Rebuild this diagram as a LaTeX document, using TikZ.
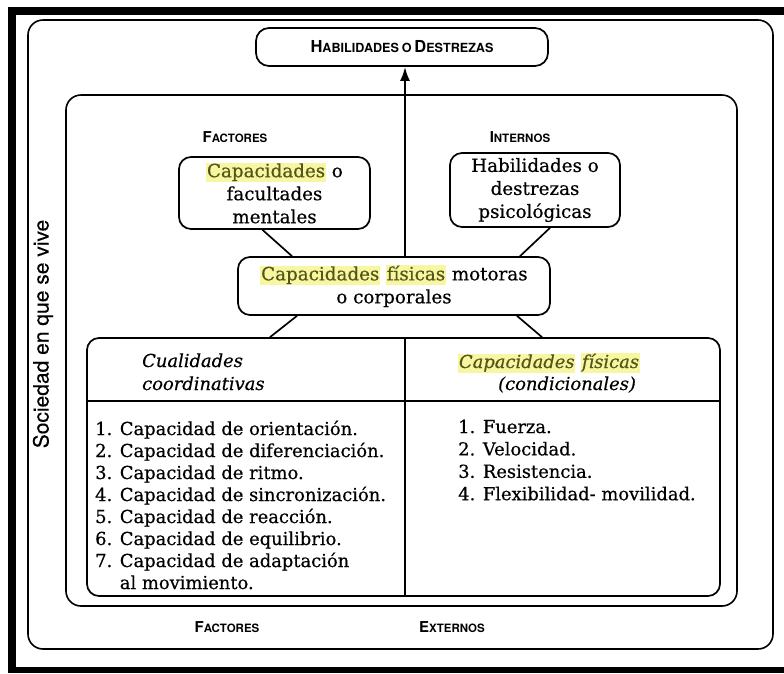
\documentclass[tikz,border=0pt]{standalone}
\usepackage{fontspec}
\setmainfont{DejaVu Serif}[UprightFeatures={FakeBold=0.5},ItalicFeatures={FakeBold=0.5}]
\setsansfont{TeX Gyre Heros}[UprightFeatures={FakeBold=0.3}]
\usetikzlibrary{arrows.meta,calc}

\definecolor{resalte}{HTML}{F7F7A1}
\definecolor{tintaresalte}{HTML}{55551A}

% text sizes
\newcommand{\cuerpo}{\fontsize{18.3}{23}\selectfont}
\newcommand{\lista}{\fontsize{17.9}{22}\selectfont}
% highlighted word
\newcommand{\marca}[1]{{\setlength{\fboxsep}{0.8pt}\colorbox{resalte}{\color{tintaresalte}\vphantom{Cp}#1}}}
% hand-made small capitals: large initial, smaller rest
\newcommand{\versal}[2]{{\fontsize{15}{15}\selectfont #1}{\fontsize{11.5}{15}\selectfont #2}}
\newcommand{\versalT}[2]{{\fontsize{16.5}{17}\selectfont #1}{\fontsize{12.6}{17}\selectfont #2}}

\tikzset{
  caja/.style={draw, line width=1.7pt, rounded corners=12pt, inner sep=0pt,
               align=center, font=\cuerpo},
  marco/.style={draw, line width=1.6pt, rounded corners=15pt},
  enlace/.style={line width=1.7pt},
  flecha/.style={line width=2.2pt, -{Latex[length=14pt,width=10pt]}},
  rotulo/.style={inner sep=0pt, font=\sffamily\bfseries},
  texto/.style={inner sep=0pt, anchor=base west, font=\lista},
  cursiva/.style={texto, font=\lista\itshape},
}

\begin{document}
\begin{tikzpicture}[x=1pt,y=-1pt]
  \useasboundingbox (0,0) rectangle (784,673);

  % heavy black border
  \fill[black] (8,7) rectangle (784,15);
  \fill[black] (8,7) rectangle (16,673);
  \fill[black] (8,667) rectangle (784,673);

  % nested frames: society, internal factors
  \draw[marco] (28,20) rectangle (773,649);
  \draw[marco] (66,95) rectangle (737,606);

  % result at the top
  \node[caja, rounded corners=13pt, minimum width=292pt, minimum height=38pt,
        font=\sffamily\bfseries] (hab) at (402,47)
        {\versalT{H}{ABILIDADES} \versalT{}{O} \versalT{D}{ESTREZAS}};

  % factor labels
  \node[rotulo] (finternos) at (235,137) {\versal{F}{ACTORES}};
  \node[rotulo] (internos)  at (520,137) {\versal{I}{NTERNOS}};
  \node[rotulo] (fexternos) at (227,627) {\versal{F}{ACTORES}};
  \node[rotulo] (externos)  at (452,627) {\versal{E}{XTERNOS}};

  % vertical caption
  \node[inner sep=0pt, rotate=90, font=\sffamily\fontsize{21}{21}\selectfont]
        (sociedad) at (43,334) {Sociedad en que se vive};

  % internal capacities
  \node[caja, minimum width=191pt, minimum height=72pt] (mentales) at (274.5,193)
        {\marca{Capacidades} o\\facultades\\mentales};
  \node[caja, minimum width=170pt, minimum height=74pt] (psico) at (535,190)
        {Habilidades o\\destrezas\\psicológicas};
  \node[caja, minimum width=312pt, minimum height=58pt] (motoras) at (394,286)
        {\marca{Capacidades} \marca{físicas} motoras\\o corporales};

  % two-column table
  \node[caja, minimum width=633pt, minimum height=258pt] (tabla) at (403.5,467) {};
  \coordinate (sepizq) at (87,401);
  \coordinate (divsup) at (405,338);
  \draw[enlace] (sepizq) -- (sepizq -| tabla.east);
  \draw[enlace] (divsup) -- (divsup |- tabla.south);

  % connectors
  \draw[enlace] ([xshift=-12pt]mentales.south) -- ([xshift=-102pt]motoras.north);
  \draw[enlace] ([xshift=15pt]psico.south) -- ([xshift=126pt]motoras.north);
  \draw[enlace] ([xshift=-97pt]motoras.south) -- ([xshift=-133.5pt]tabla.north);
  \draw[enlace] ([xshift=123pt]motoras.south) -- ([xshift=138.5pt]tabla.north);
  \draw[flecha] ([xshift=11pt]motoras.north) -- ([xshift=3pt]hab.south);

  % column headings
  \node[cursiva] (cual)  at (142,367) {Cualidades};
  \node[cursiva] (coord) at (142,390) {coordinativas};
  \node[cursiva] (capf)  at (458,368) {\marca{Capacidades} \marca{físicas}};
  \node[cursiva] (cond)  at (498,390) {(condicionales)};

  % coordinative qualities
  \foreach \t [count=\i] in {
      {1. Capacidad de orientación.},
      {2. Capacidad de diferenciación.},
      {3. Capacidad de ritmo.},
      {4. Capacidad de sincronización.},
      {5. Capacidad de reacción.},
      {6. Capacidad de equilibrio.},
      {7. Capacidad de adaptación},
      {\phantom{7. }al movimiento.}}
    \node[texto] (coo\i) at (95,{435+22*(\i-1)}) {\t};

  % conditional capacities
  \foreach \t [count=\i] in {
      {1. Fuerza.},
      {2. Velocidad.},
      {3. Resistencia.},
      {4. Flexibilidad- movilidad.}}
    \node[texto] (con\i) at (458,{433+22.4*(\i-1)}) {\t};
\end{tikzpicture}
\end{document}
